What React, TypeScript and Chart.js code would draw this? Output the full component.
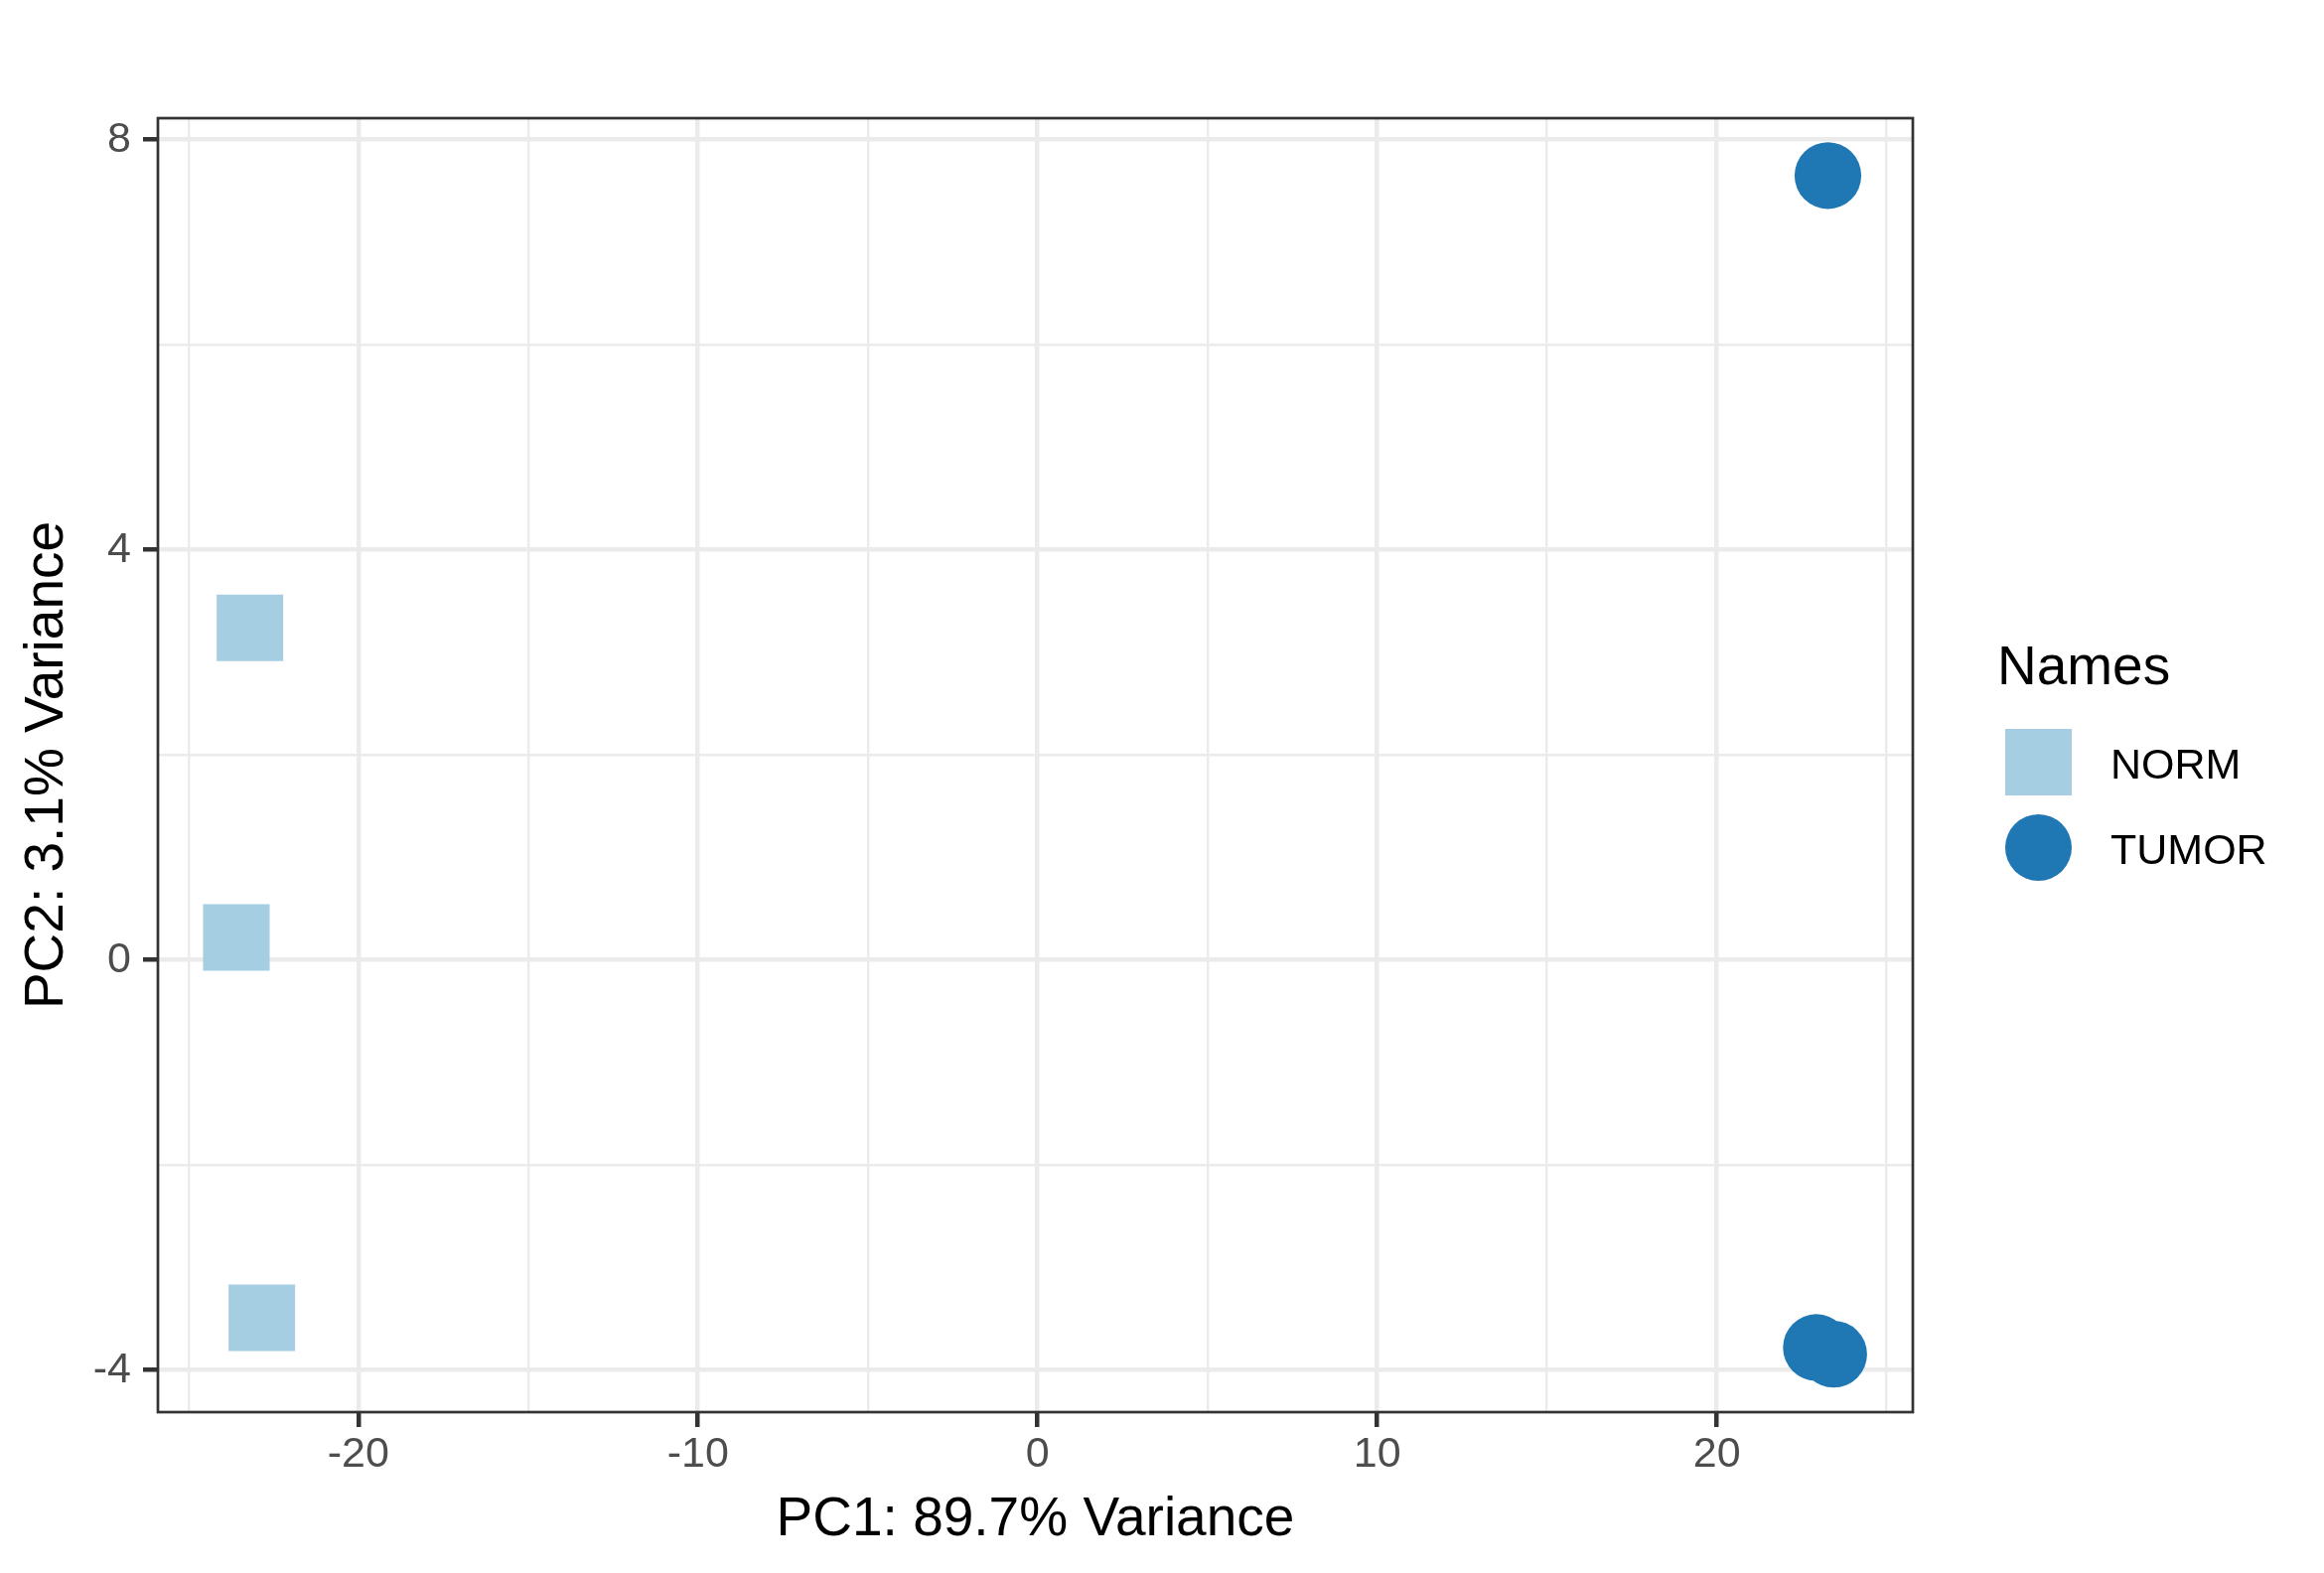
import { useEffect, useRef } from "react";
import { Chart, registerables } from "chart.js";

Chart.register(...registerables);

// PCA coordinates
const normPc1 = [-23.19, -23.59, -22.84];
const normPc2 = [3.24, 0.22, -3.49];
const tumorPc1 = [23.27, 22.93, 23.44];
const tumorPc2 = [7.65, -3.78, -3.845];

const xMajorTicks = [-20, -10, 0, 10, 20];
const xMinorTicks = [-25, -15, -5, 5, 15, 25];
const yMajorTicks = [-4, 0, 4, 8];
const yMinorTicks = [-2, 2, 6];

const xRange = [-25.9, 25.77];
const yRange = [-4.41, 8.21];

const legendNames = ["NORM", "TUMOR"];
const colors = ["#A6CEE3", "#1F78B4"];

const FONT = "'Liberation Sans', Arial, Helvetica, sans-serif";
const GRID = "#EBEBEB";
const DARK = "#333333";

const panelBorder = {
  id: "panelBorder",
  afterDraw(chart: any) {
    const { ctx, chartArea } = chart;
    ctx.save();
    ctx.strokeStyle = DARK;
    ctx.lineWidth = 2.7;
    ctx.strokeRect(chartArea.left, chartArea.top, chartArea.right - chartArea.left, chartArea.bottom - chartArea.top);
    ctx.restore();
  },
};

function tickList(major: number[], minor: number[]) {
  return [...major, ...minor].sort((a, b) => a - b).map((v) => ({ value: v }));
}

function PcaChart() {
  const canvasRef = useRef<HTMLCanvasElement>(null);
  const chartRef = useRef<Chart | null>(null);

  useEffect(() => {
    document.body.style.margin = "0";
    if (!canvasRef.current) return;
    if (chartRef.current) chartRef.current.destroy();

    const axis = (major: number[], minor: number[], range: number[], title: string, isX: boolean) => ({
      type: "linear" as const,
      min: range[0],
      max: range[1],
      afterBuildTicks: (scale: any) => {
        scale.ticks = tickList(major, minor);
      },
      afterFit: (scale: any) => {
        if (isX) scale.height = 162;
        else scale.width = 159;
      },
      border: { display: false },
      grid: {
        color: GRID,
        lineWidth: (c: any) => (major.includes(c.tick?.value) ? 4.5 : 2.4),
        drawTicks: true,
        tickLength: 15,
        tickWidth: 4.5,
        tickColor: (c: any) => (major.includes(c.tick?.value) ? DARK : "rgba(0,0,0,0)"),
      },
      ticks: {
        autoSkip: false,
        maxRotation: 0,
        padding: isX ? 2 : 12,
        color: "#4D4D4D",
        font: { family: FONT, size: 43 },
        callback: (v: any) => (major.includes(Number(v)) ? String(v) : ""),
      },
      title: {
        display: true,
        text: title,
        color: "#000000",
        font: { family: FONT, size: 55, lineHeight: 1 },
        padding: isX ? { top: 0, bottom: 26 } : { top: 20, bottom: 0 },
      },
    });

    chartRef.current = new Chart(canvasRef.current, {
      type: "scatter",
      data: {
        datasets: [
          {
            label: legendNames[0],
            data: normPc1.map((x, i) => ({ x, y: normPc2[i] })),
            pointStyle: "rect",
            pointRadius: 47.4,
            backgroundColor: colors[0],
            borderWidth: 0,
          },
          {
            label: legendNames[1],
            data: tumorPc1.map((x, i) => ({ x, y: tumorPc2[i] })),
            pointStyle: "circle",
            pointRadius: 33.6,
            backgroundColor: colors[1],
            borderWidth: 0,
          },
        ],
      },
      options: {
        responsive: false,
        devicePixelRatio: 1,
        animation: false,
        events: [],
        layout: { padding: { top: 119, right: 414, left: 0, bottom: 0 } },
        plugins: { legend: { display: false }, tooltip: { enabled: false } },
        scales: {
          x: axis(xMajorTicks, xMinorTicks, xRange, "PC1: 89.7% Variance", true),
          y: axis(yMajorTicks, yMinorTicks, yRange, "PC2: 3.1% Variance", false),
        },
      },
      plugins: [panelBorder],
    });

    return () => {
      if (chartRef.current) chartRef.current.destroy();
      chartRef.current = null;
    };
  }, []);

  return <canvas ref={canvasRef} width={2340} height={1584} />;
}

export default function App() {
  return (
    <div style={{ position: "relative", width: 2340, height: 1584, background: "#fff", fontFamily: FONT }}>
      <PcaChart />
      <div style={{ position: "absolute", left: 2011, top: 643.2, fontSize: 55, lineHeight: "55px", color: "#000", whiteSpace: "nowrap" }}>
        Names
      </div>
      <div style={{ position: "absolute", left: 2019, top: 734, width: 67, height: 67, background: colors[0] }} />
      <div style={{ position: "absolute", left: 2019, top: 820, width: 67, height: 67, borderRadius: "50%", background: colors[1] }} />
      <div style={{ position: "absolute", left: 2125, top: 747.6, fontSize: 43, lineHeight: "43px", color: "#000", whiteSpace: "nowrap" }}>
        {legendNames[0]}
      </div>
      <div style={{ position: "absolute", left: 2125, top: 833.6, fontSize: 43, lineHeight: "43px", color: "#000", whiteSpace: "nowrap" }}>
        {legendNames[1]}
      </div>
    </div>
  );
}
